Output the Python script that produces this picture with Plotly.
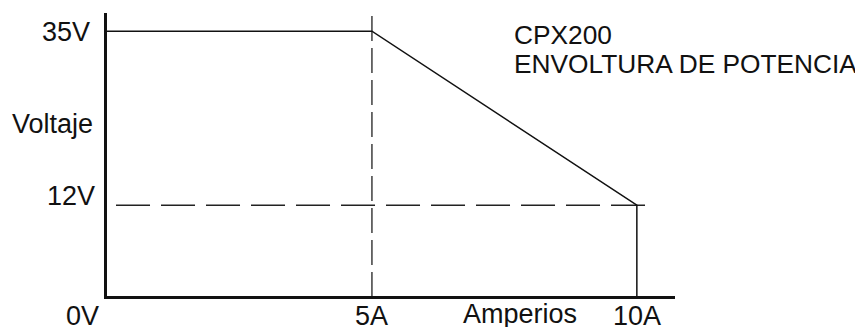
import plotly.graph_objects as go

# power envelope of the CPX200
amps = [0, 5, 10, 10]
volts = [35, 35, 12, 0]

# guide lines
guide_5a_x = [5, 5]
guide_5a_y = [37.0, 0]
guide_12v_x = [0.17, 10.23]
guide_12v_y = [12, 12]

v_ticks = [35, 12, 0]
v_labels = ["35V", "12V", "0V"]
a_ticks = [5, 10]
a_labels = ["5A", "10A"]
title_lines = ["CPX200", "ENVOLTURA DE POTENCIA"]

FONT = dict(family="Liberation Sans, Arial, sans-serif", size=27, color="#111111")
TFONT = dict(family="Liberation Sans, Arial, sans-serif", size=26.3, color="#111111")

fig = go.Figure()

fig.add_trace(go.Scatter(x=guide_5a_x, y=guide_5a_y, mode="lines",
                         line=dict(color="#4a4a4a", width=1.6, dash="25px,7px")))
fig.add_trace(go.Scatter(x=guide_12v_x, y=guide_12v_y, mode="lines",
                         line=dict(color="#222222", width=1.4, dash="34px,11px")))
fig.add_trace(go.Scatter(x=amps, y=volts, mode="lines",
                         line=dict(color="#111111", width=1.5)))

ann = []
# voltage labels
ann.append(dict(x=0, y=v_ticks[0], text=v_labels[0], xanchor="right", yanchor="middle", xshift=-15, yshift=-1))
ann.append(dict(x=0, y=v_ticks[1], text=v_labels[1], xanchor="right", yanchor="bottom", xshift=-10, yshift=-8))
ann.append(dict(x=0, y=v_ticks[2], text=v_labels[2], xanchor="right", yanchor="top", xshift=-6, yshift=-3))
ann.append(dict(x=0, y=22.7, text="Voltaje", xanchor="right", yanchor="middle", xshift=-12))
# current labels
for a, lab in zip(a_ticks, a_labels):
    ann.append(dict(x=a, y=0, text=lab, xanchor="center", yanchor="top", yshift=-3))
ann.append(dict(x=7.79, y=0, text="Amperios", xanchor="center", yanchor="top", yshift=-1))
for a in ann:
    a["xref"] = "x"
    a["yref"] = "y"
    a["showarrow"] = False
    a["font"] = FONT
# title block
for i, line in enumerate(title_lines):
    ann.append(dict(xref="paper", yref="paper", x=(504 - 99) / 568, y=1.0, text=line,
                    xanchor="left", yanchor="top", showarrow=False, font=TFONT, yshift=-5 - 29 * i))
fig.update_layout(annotations=ann)

# the page body adds an 8px offset, so the figure is 8px smaller than the window
fig.update_layout(
    width=855, height=319,
    margin=dict(l=99, r=188, t=5, b=31),
    paper_bgcolor="white", plot_bgcolor="white",
    showlegend=False,
    xaxis=dict(range=[0, 10.72], showline=True, linewidth=3, linecolor="#111111",
               showgrid=False, zeroline=False, showticklabels=False, ticks=""),
    yaxis=dict(range=[0, 37.4], showline=True, linewidth=3, linecolor="#111111",
               showgrid=False, zeroline=False, showticklabels=False, ticks=""),
)

fig.write_html("out.html")
